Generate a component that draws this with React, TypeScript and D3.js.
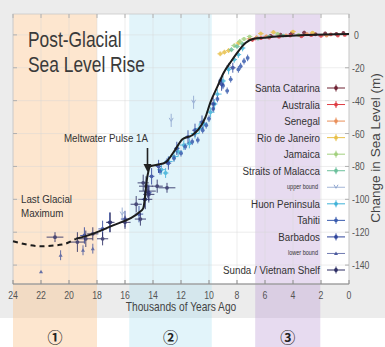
import React from "react"
import * as d3 from "d3"

// sea level curve, [thousand years ago, metres]
const curveDashed = [[24, -125.5], [22, -128.5], [20.5, -127.5], [19.5, -124]]
const curveSolid = [
  [19.5, -124], [18.3, -121], [16.9, -116], [15.0, -108], [14.7, -105.5], [14.4, -86],
  [14.2, -80], [13.7, -79], [13.1, -77.5], [12.5, -71], [11.9, -63.5], [11.2, -61],
  [10.75, -57.5], [10.25, -50], [9.9, -41], [9.4, -31.5], [8.95, -23], [8.45, -16.5],
  [7.95, -10.5], [7.4, -5], [6.8, -2.4], [6.1, -1.8], [5.4, -1.2], [2.9, 0], [0, 0.6]
]

// observations: [kyr, m, kyr error, m error]
const santaCatarina = [[0.4, 1.2, 0.1, 1], [0.9, 0.6, 0.15, 0.8], [1.7, 0.9, 0.1, 1], [2.4, 0.4, 0.2, 0.8], [3.2, 1.3, 0.15, 1.2], [4.1, 0.8, 0.2, 1], [4.9, 0.2, 0.2, 1], [5.6, -0.6, 0.2, 0.8]]
const australia = [[0.3, 0, 0.1, 0.8], [0.8, -0.4, 0.1, 0.6], [1.3, 0.3, 0.15, 0.8], [2.0, -0.6, 0.2, 1], [2.7, -0.2, 0.2, 0.8], [3.4, -0.9, 0.2, 1], [4.2, -0.4, 0.2, 0.8], [5.0, -1.1, 0.25, 1], [5.7, -1.6, 0.2, 1], [6.3, -2.0, 0.2, 1], [6.9, -3.0, 0.25, 1.2]]
const senegal = [[1.6, -0.4, 0.2, 0.8], [3.0, 0.4, 0.2, 1], [4.5, -0.3, 0.2, 0.8], [5.9, -0.9, 0.2, 1], [6.6, -1.6, 0.2, 1.2], [7.1, -2.4, 0.2, 1]]
const rioDeJaneiro = [[8.9, -10.5, 0.2, 1.5], [8.6, -9.5, 0.2, 1.5], [9.2, -11.5, 0.2, 1.5], [7.9, -5, 0.2, 1.5], [6.3, 0.8, 0.2, 1.2], [5.4, 1.6, 0.2, 1.2], [4.0, 2.0, 0.2, 1], [2.6, 1.3, 0.2, 1]]
const jamaica = [[8.2, -6.5, 0.2, 1.5], [7.8, -4, 0.2, 1.5], [7.5, -2.5, 0.2, 1.2], [7.1, -1, 0.2, 1], [5.1, 0.6, 0.2, 1], [3.6, 0, 0.2, 1]]
const straitsOfMalacca = [[8.4, -9, 0.2, 1.5], [8.0, -7, 0.2, 1.5], [7.6, -5.5, 0.2, 1.2], [6.5, -2.2, 0.2, 1], [5.7, -1, 0.2, 1], [4.7, -0.4, 0.2, 1]]
const upperBound = [[11.1, -41, 0, 4], [16.2, -109, 0, 4], [12.7, -52, 0, 4], [8.6, -20, 0, 3]]
const huonPeninsula = [[13.4, -82, 0.3, 3], [12.9, -77, 0.3, 3], [12.5, -74, 0.3, 3], [12.2, -71, 0.3, 3], [11.8, -67, 0.3, 3], [11.0, -60, 0.3, 3], [10.7, -57, 0.3, 3], [10.4, -54, 0.3, 3], [9.9, -47, 0.3, 3], [9.4, -36, 0.3, 3], [9.0, -28, 0.2, 3], [8.6, -21, 0.2, 3], [8.2, -15, 0.2, 2], [7.9, -12, 0.2, 2], [7.6, -8, 0.2, 2], [13.1, -84, 0.2, 3], [11.4, -66, 0.2, 3], [9.6, -42, 0.2, 3]]
const tahiti = [[13.5, -83, 0.1, 2], [13.0, -77, 0.1, 2], [12.5, -75, 0.1, 2], [12.0, -72, 0.1, 2], [11.7, -68, 0.1, 2], [11.2, -65, 0.1, 2], [10.8, -64, 0.1, 2], [10.45, -58, 0.1, 2], [10.0, -51, 0.1, 2], [9.7, -45, 0.1, 2], [9.4, -39, 0.1, 2], [9.2, -28, 0.1, 2], [8.7, -34, 0.1, 2], [8.45, -27, 0.1, 2], [7.9, -21, 0.1, 2], [7.74, -19, 0.1, 2], [7.5, -16, 0.1, 2], [7.24, -14, 0.1, 2], [9.0, -31, 0.1, 2], [10.2, -55, 0.1, 2]]
const barbados = [[18.9, -122, 0.3, 5], [17.6, -118, 0.3, 5], [17.1, -114, 0.2, 6], [16.0, -112, 0.3, 5], [15.0, -109, 0.3, 5], [14.6, -100, 0.2, 5], [14.3, -96, 0.2, 5], [14.1, -86, 0.2, 5], [13.6, -80, 0.2, 4], [12.9, -78, 0.2, 4], [12.3, -69, 0.2, 4], [11.5, -62, 0.2, 4], [11.0, -58, 0.2, 4], [10.5, -53, 0.2, 4], [9.7, -42, 0.2, 4], [9.1, -30, 0.2, 4], [8.3, -20, 0.2, 3]]
const lowerBound = [[22.0, -144, 0, 0], [20.6, -134, 0, 3], [19.0, -131, 0, 3], [18.3, -130, 0, 3]]
const sundaShelf = [[21.0, -123, 0.6, 3], [19.4, -126, 0.5, 6], [18.8, -124, 0.5, 5], [18.3, -121, 0.4, 4], [17.6, -124, 0.4, 4], [17.05, -114, 0.3, 6], [16.0, -114, 0.4, 4], [14.9, -112, 0.4, 4], [14.55, -100, 0.5, 6], [14.3, -97, 0.4, 5], [14.7, -90, 0.4, 5], [14.5, -92, 0.5, 6], [14.4, -95, 0.6, 4], [13.7, -92, 0.4, 4], [13.0, -93, 0.6, 3], [15.2, -103, 0.4, 5]]

const seriesNames = ["Santa Catarina", "Australia", "Senegal", "Rio de Janeiro", "Jamaica", "Straits of Malacca", "upper bound", "Huon Peninsula", "Tahiti", "Barbados", "lower bound", "Sunda / Vietnam Shelf"]
const seriesData = [santaCatarina, australia, senegal, rioDeJaneiro, jamaica, straitsOfMalacca, upperBound, huonPeninsula, tahiti, barbados, lowerBound, sundaShelf]
const seriesColors = ["#6e2233", "#de3c44", "#e98f5a", "#e8c04a", "#a2d07e", "#6cc09c", "#8fa6cf", "#3fb2d8", "#3a5cae", "#2f459c", "#4c5b9e", "#2c2d63"]

// eras shown as bands, [from kyr, to kyr]
const eras = [[24, 18], [15.7, 9.8], [6.7, 2.05]]
const eraColors = ["rgba(250,196,140,0.42)", "rgba(165,222,238,0.32)", "rgba(186,150,212,0.34)"]
const eraLabels = ["①", "②", "③"]

const xTicks = [24, 22, 20, 18, 16, 14, 12, 10, 8, 6, 4, 2, 0]
const yTicks = [0, -20, -40, -60, -80, -100, -120, -140]

const FONT = "'Liberation Sans Narrow', 'Liberation Sans', Arial, sans-serif"

const T = ({ x, y, sx = 0.83, size = 11.5, anchor = "start", fill = "#333", children }: any) => (
  <text transform={`translate(${x},${y}) scale(${sx},1)`} fontSize={size} textAnchor={anchor} fill={fill} fontFamily={FONT}>
    {children}
  </text>
)

const App = () => {
  const W = 385
  const H = 347
  const left = 13, right = 349, top = 14, bottom = 284

  const x = d3.scaleLinear().domain([24, 0]).range([left, right])
  const y = d3.scaleLinear().domain([-151.5, 12.7]).range([bottom, top])

  const line = d3.line<number[]>().x(d => x(d[0])).y(d => y(d[1])).curve(d3.curveMonotoneX)

  const legendY = d3.scalePoint<string>().domain(seriesNames).range([88, 270])

  const marker = (i: number, cx: number, cy: number, key: string) => {
    const c = seriesColors[i]
    if (seriesNames[i] === "upper bound")
      return <path key={key} d={`M${cx - 2},${cy - 2.5}L${cx},${cy + 1}L${cx + 2},${cy - 2.5}`} fill="none" stroke={c} strokeWidth={1} />
    if (seriesNames[i] === "lower bound")
      return <path key={key} d={`M${cx - 2},${cy + 1.5}L${cx},${cy - 2}L${cx + 2},${cy + 1.5}Z`} fill={c} />
    return <circle key={key} cx={cx} cy={cy} r={1.9} fill={c} />
  }

  return (
    <svg width={W} height={H} style={{ position: "absolute", left: 0, top: 0, display: "block" }}>
      <rect x={0} y={0} width={W} height={318} fill="#ececec" />
      <rect x={0} y={318} width={W} height={H - 318} fill="#ffffff" />
      <rect x={left} y={top} width={right - left} height={bottom - top} fill="#ffffff" />

      {/* eras */}
      {eras.map((e, i) => (
        <rect key={i} x={x(e[0])} y={top} width={x(e[1]) - x(e[0])} height={H - top} fill={eraColors[i]} />
      ))}

      {/* grid */}
      {xTicks.map(t => (
        <line key={"gx" + t} x1={x(t)} x2={x(t)} y1={top} y2={bottom} stroke="#d8d8d8" strokeOpacity={0.45} />
      ))}
      {yTicks.map(t => (
        <line key={"gy" + t} x1={left} x2={right} y1={y(t)} y2={y(t)} stroke="#d8d8d8" strokeOpacity={0.45} />
      ))}

      {/* frame and ticks */}
      <rect x={left} y={top} width={right - left} height={bottom - top} fill="none" stroke="#c8c8c8" strokeWidth={0.8} />
      <line x1={left} x2={right} y1={bottom} y2={bottom} stroke="#8a8a8a" strokeWidth={1} />
      {xTicks.map(t => (
        <g key={"xt" + t}>
          <line x1={x(t)} x2={x(t)} y1={bottom} y2={bottom - 4} stroke="#8a8a8a" />
          <line x1={x(t)} x2={x(t)} y1={top} y2={top + 4} stroke="#b0b0b0" />
          <T x={x(t)} y={299} size={10.5} anchor="middle" fill="#555">{t}</T>
        </g>
      ))}
      {yTicks.map(t => (
        <g key={"yt" + t}>
          <line x1={right} x2={right - 4} y1={y(t)} y2={y(t)} stroke="#b0b0b0" />
          <line x1={left} x2={left + 4} y1={y(t)} y2={y(t)} stroke="#b0b0b0" />
          <T x={t === 0 ? 354 : 352} y={y(t) + 4} size={10.5} fill="#555">{t}</T>
        </g>
      ))}
      <T x={181} y={311} size={12} sx={0.85} anchor="middle" fill="#444">Thousands of Years Ago</T>
      <text transform={`translate(380,148) rotate(-90)`} fontSize={13.5} textAnchor="middle" fill="#444" fontFamily={FONT}>
        Change in Sea Level (m)
      </text>

      {/* observations */}
      {seriesData.map((data, i) => (
        <g key={"s" + i} opacity={0.85}>
          {data.map((d, j) => (
            <g key={j}>
              {d[3] > 0 && <line x1={x(d[0])} x2={x(d[0])} y1={y(d[1] - d[3])} y2={y(d[1] + d[3])} stroke={seriesColors[i]} strokeWidth={1} />}
              {d[2] > 0 && <line x1={x(d[0] + d[2])} x2={x(d[0] - d[2])} y1={y(d[1])} y2={y(d[1])} stroke={seriesColors[i]} strokeWidth={1} />}
              {marker(i, x(d[0]), y(d[1]), "m")}
            </g>
          ))}
        </g>
      ))}

      {/* curve */}
      <path d={line(curveDashed) || ""} fill="none" stroke="#1c1c1c" strokeWidth={2} strokeDasharray="5,4" />
      <path d={line(curveSolid) || ""} fill="none" stroke="#1c1c1c" strokeWidth={2} />

      {/* annotations */}
      <T x={28} y={47} size={22} sx={0.79} fill="#3a3a3a">Post-Glacial</T>
      <T x={28} y={72} size={22} sx={0.79} fill="#3a3a3a">Sea Level Rise</T>
      <T x={106} y={142} size={11.5} sx={0.85} anchor="middle">Meltwater Pulse 1A</T>
      <line x1={147.5} x2={147.5} y1={148} y2={166} stroke="#222" strokeWidth={1.6} />
      <path d="M143.5,164L147.5,172L151.5,164Z" fill="#222" />
      <T x={21} y={203} size={11.5} sx={0.85}>Last Glacial</T>
      <T x={21} y={217} size={11.5} sx={0.85}>Maximum</T>

      {/* legend */}
      {seriesNames.map((name, i) => {
        const ly = legendY(name) || 0
        const small = name.endsWith("bound")
        return (
          <g key={"l" + i}>
            <T x={small ? 318 : 320} y={ly + (small ? 2 : 4)} size={small ? 6.5 : 11.5} sx={0.85} anchor="end">{name}</T>
            <line x1={327} x2={345} y1={ly} y2={ly} stroke={seriesColors[i]} strokeWidth={small ? 0.8 : 1} />
            {!small && <line x1={336} x2={336} y1={ly - 3.5} y2={ly + 3.5} stroke={seriesColors[i]} strokeWidth={1} />}
            {marker(i, 336, ly, "lm")}
          </g>
        )
      })}

      {/* era numbers */}
      {eras.map((e, i) => (
        <text key={"en" + i} x={(x(e[0]) + x(e[1])) / 2} y={343} fontSize={15} textAnchor="middle" fill="#222" fontWeight="bold" fontFamily="'Noto Sans CJK JP', 'DejaVu Sans', sans-serif">
          {eraLabels[i]}
        </text>
      ))}
    </svg>
  )
}

export default App
